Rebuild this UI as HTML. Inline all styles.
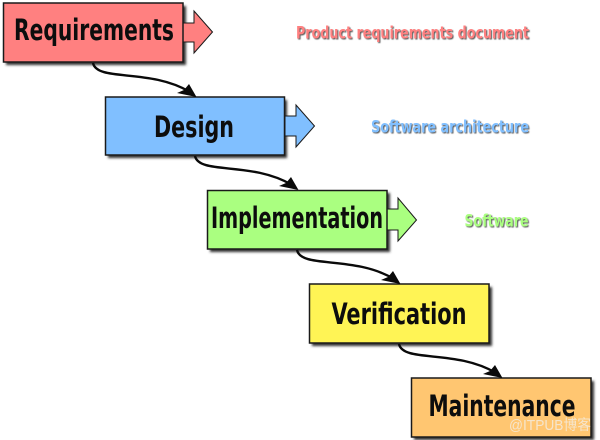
<!DOCTYPE html>
<html><head><meta charset="utf-8"><style>
html,body{margin:0;padding:0;background:#fff;width:600px;height:440px;overflow:hidden}
svg{display:block}
.t{font-family:"DejaVu Sans","Liberation Sans",sans-serif;font-weight:bold;font-stretch:condensed}
.m{font-size:29px;fill:#0d0d0d;text-anchor:middle}
.s{font-size:17px;text-anchor:end}
.b{stroke:#1a1a1a;stroke-width:1.5}
.a{stroke:#1a1a1a;stroke-width:1}
.c{fill:none;stroke:#0a0a0a;stroke-width:2.4}
</style></head><body>
<svg width="600" height="440" viewBox="0 0 600 440" xmlns="http://www.w3.org/2000/svg">
<defs><filter id="f" x="-10%" y="-10%" width="125%" height="130%"><feGaussianBlur stdDeviation="1.2"/></filter>
<filter id="g" x="-5%" y="-20%" width="110%" height="140%"><feGaussianBlur stdDeviation="0.6"/></filter>
<filter id="h" x="-5%" y="-20%" width="110%" height="140%"><feGaussianBlur stdDeviation="0.3"/></filter></defs>
<g fill="#333" filter="url(#f)">
<rect x="6" y="6" width="180" height="59"/><rect x="108" y="100" width="179" height="58"/><rect x="210" y="193" width="180" height="59"/><rect x="312" y="287" width="180" height="59"/><rect x="414" y="381" width="180" height="59"/>
</g>
<polygon class="a" fill="#ff8080" points="183,23 194,23 194,11 212.5,32 194,53 194,42 183,42"/>
<polygon class="a" fill="#80bfff" points="285,116 296,116 296,105 314.5,126 296,147 296,136 285,136"/>
<polygon class="a" fill="#aaff80" points="387,209 398,209 398,198 416.5,220 398,241 398,230 387,230"/>
<rect class="b" x="3.5" y="3" width="179.5" height="59" fill="#ff8080"/>
<rect class="b" x="105.5" y="97" width="179" height="58" fill="#80bfff"/>
<rect class="b" x="207.5" y="190.5" width="179.5" height="58.5" fill="#aaff80"/>
<rect class="b" x="309.5" y="284" width="179.5" height="59" fill="#fff455"/>
<rect class="b" x="411.5" y="378" width="179.5" height="59" fill="#ffc671"/>
<path class="c" d="M93,63C97,82 150,68 190,92"/><polygon fill="#0a0a0a" points="196.5,97 177,93 184,90 189,84"/>
<path class="c" d="M195,156C199,175 252,161 292,185"/><polygon fill="#0a0a0a" points="298.5,190 279,186 286,183 291,177"/>
<path class="c" d="M297,250C301,269 354,255 394,279"/><polygon fill="#0a0a0a" points="400.5,284 381,280 388,277 393,271"/>
<path class="c" d="M399,344C403,363 456,349 496,373"/><polygon fill="#0a0a0a" points="502.5,378 483,374 490,371 495,365"/>
<g class="t m">
<text x="94" y="40" textLength="160" lengthAdjust="spacingAndGlyphs">Requirements</text>
<text x="194" y="137" textLength="80" lengthAdjust="spacingAndGlyphs">Design</text>
<text x="297" y="228" textLength="172" lengthAdjust="spacingAndGlyphs">Implementation</text>
<text x="399" y="324" textLength="135" lengthAdjust="spacingAndGlyphs">Verification</text>
<text x="502" y="416" textLength="147" lengthAdjust="spacingAndGlyphs">Maintenance</text>
</g>
<g class="t s" fill="#555" filter="url(#g)">
<text x="530" y="39.5" textLength="233" lengthAdjust="spacingAndGlyphs">Product requirements document</text>
<text x="530" y="133.5" textLength="158" lengthAdjust="spacingAndGlyphs">Software architecture</text>
<text x="529.5" y="227.5" textLength="64" lengthAdjust="spacingAndGlyphs">Software</text>
</g>
<g class="t s" filter="url(#h)">
<text x="529" y="38.5" fill="#ff8080" textLength="233" lengthAdjust="spacingAndGlyphs">Product requirements document</text>
<text x="529" y="132.5" fill="#80bfff" textLength="158" lengthAdjust="spacingAndGlyphs">Software architecture</text>
<text x="528.5" y="226.5" fill="#aaff80" textLength="64" lengthAdjust="spacingAndGlyphs">Software</text>
</g>
<text x="509" y="430" font-family="'Liberation Sans','Noto Sans CJK SC',sans-serif" font-size="14.5" fill="#f2f2f2" fill-opacity=".7" textLength="82" lengthAdjust="spacingAndGlyphs">@ITPUB博客</text>
</svg>
</body></html>
